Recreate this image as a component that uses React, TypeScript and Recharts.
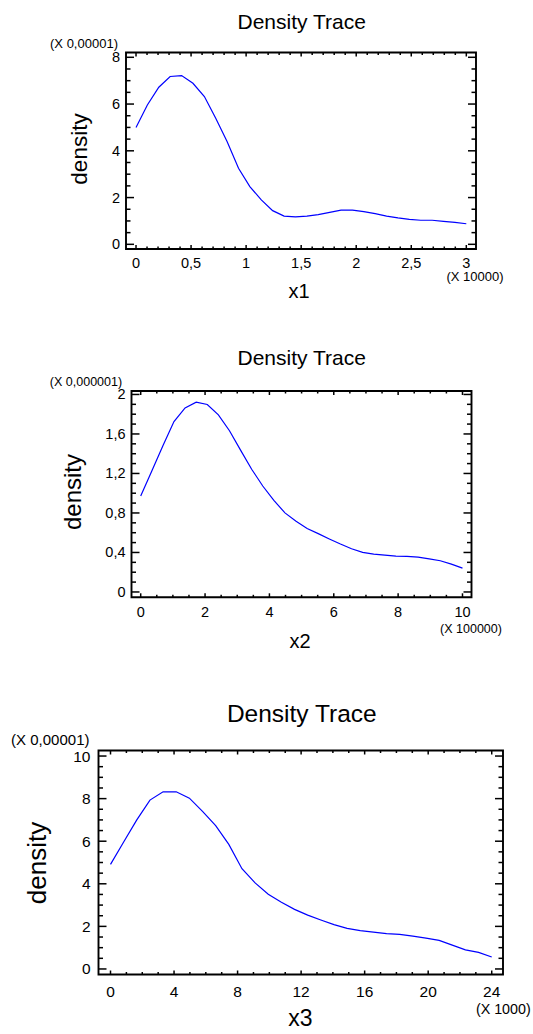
import React from 'react';
import { LineChart, Line, XAxis, YAxis, ReferenceArea } from 'recharts';

const FONT = "'Liberation Sans', Arial, Helvetica, sans-serif";

// ---------- Chart 1 (x1) ----------
const x1Values = [0, 0.103, 0.207, 0.31, 0.414, 0.517, 0.621, 0.724, 0.828, 0.931, 1.034, 1.138, 1.241, 1.345, 1.448, 1.552, 1.655, 1.759, 1.862, 1.966, 2.069, 2.172, 2.276, 2.379, 2.483, 2.586, 2.69, 2.793, 2.897, 3];
const density1Values = [5.0, 5.96, 6.72, 7.18, 7.22, 6.89, 6.32, 5.39, 4.39, 3.25, 2.47, 1.9, 1.44, 1.21, 1.17, 1.21, 1.27, 1.37, 1.46, 1.46, 1.4, 1.31, 1.21, 1.13, 1.07, 1.03, 1.03, 0.98, 0.94, 0.88];
const x1MajorTicks = [0, 0.5, 1, 1.5, 2, 2.5, 3];
const density1MajorTicks = [0, 2, 4, 6, 8];

// ---------- Chart 2 (x2) ----------
const x2Values = [0, 0.345, 0.69, 1.034, 1.379, 1.724, 2.069, 2.414, 2.759, 3.103, 3.448, 3.793, 4.138, 4.483, 4.828, 5.172, 5.517, 5.862, 6.207, 6.552, 6.897, 7.241, 7.586, 7.931, 8.276, 8.621, 8.966, 9.31, 9.655, 10];
const density2Values = [0.971, 1.226, 1.48, 1.725, 1.864, 1.922, 1.898, 1.793, 1.633, 1.436, 1.243, 1.073, 0.927, 0.801, 0.716, 0.642, 0.591, 0.537, 0.486, 0.438, 0.401, 0.384, 0.374, 0.363, 0.36, 0.353, 0.336, 0.316, 0.282, 0.241];
const x2MajorTicks = [0, 2, 4, 6, 8, 10];
const density2MajorTicks = [0, 0.4, 0.8, 1.2, 1.6, 2];

// ---------- Chart 3 (x3) ----------
const x3Values = [0, 0.828, 1.655, 2.483, 3.31, 4.138, 4.966, 5.793, 6.621, 7.448, 8.276, 9.103, 9.931, 10.759, 11.586, 12.414, 13.241, 14.069, 14.897, 15.724, 16.552, 17.379, 18.207, 19.034, 19.862, 20.69, 21.517, 22.345, 23.172, 24];
const density3Values = [4.91, 5.96, 7.0, 7.93, 8.32, 8.32, 8.02, 7.4, 6.73, 5.85, 4.71, 4.04, 3.51, 3.13, 2.8, 2.53, 2.3, 2.08, 1.91, 1.8, 1.73, 1.66, 1.62, 1.54, 1.45, 1.34, 1.12, 0.9, 0.78, 0.56];
const x3MajorTicks = [0, 4, 8, 12, 16, 20, 24];
const density3MajorTicks = [0, 2, 4, 6, 8, 10];

const titleText = 'Density Trace';
const yLabelText = 'density';

const AXIS_W = 40;
const AXIS_H = 30;

function fmt(v: number) {
  return String(v).replace('.', ',');
}

function buildTicks(majors: number[], step: number) {
  const min = majors[0];
  const max = majors[majors.length - 1];
  const n = Math.round((max - min) / step);
  const out: number[] = [];
  for (let i = 0; i <= n; i++) out.push(+(min + i * step).toFixed(6));
  return out;
}

function isMajor(v: number, majors: number[]) {
  return majors.some((m) => Math.abs(m - v) < 1e-6);
}

type Cfg = {
  width: number;
  height: number;
  top: number;
  left: number;
  right: number;
  bottom: number;
  xDomain: [number, number];
  yDomain: [number, number];
  xMajor: number[];
  yMajor: number[];
  xStep: number;
  yStep: number;
  xMajorLen: number;
  xMinorLen: number;
  yMajorLen: number;
  yMinorLen: number;
  tickFont: number;
  xLabelDy: number;
  yLabelDx: number;
};

function makeXTick(cfg: Cfg) {
  return (props: any) => {
    const { x, payload } = props;
    const v = payload.value as number;
    const major = isMajor(v, cfg.xMajor);
    const len = major ? cfg.xMajorLen : cfg.xMinorLen;
    const by = cfg.bottom;
    return (
      <g>
        <line x1={x} x2={x} y1={by} y2={by - len} stroke="#000" strokeWidth={1.5} />
        <line x1={x} x2={x} y1={cfg.top} y2={cfg.top + len} stroke="#000" strokeWidth={1.5} />
        {major && (
          <text x={x} y={by + cfg.xLabelDy} textAnchor="middle" dominantBaseline="central" fontSize={cfg.tickFont} fontFamily={FONT} fill="#000">
            {fmt(v)}
          </text>
        )}
      </g>
    );
  };
}

function makeYTick(cfg: Cfg) {
  const rightX = cfg.width - cfg.right;
  const lx = cfg.left;
  return (props: any) => {
    const { y, payload } = props;
    const v = payload.value as number;
    const major = isMajor(v, cfg.yMajor);
    const len = major ? cfg.yMajorLen : cfg.yMinorLen;
    return (
      <g>
        <line x1={lx} x2={lx + len} y1={y} y2={y} stroke="#000" strokeWidth={1.5} />
        <line x1={rightX} x2={rightX - len} y1={y} y2={y} stroke="#000" strokeWidth={1.5} />
        {major && (
          <text x={lx - cfg.yLabelDx} y={y} textAnchor="end" dominantBaseline="central" fontSize={cfg.tickFont} fontFamily={FONT} fill="#000">
            {fmt(v)}
          </text>
        )}
      </g>
    );
  };
}

function DensityChart({ cfg, xs, ys }: { cfg: Cfg; xs: number[]; ys: number[] }) {
  const data = xs.map((x, i) => ({ x, y: ys[i] }));
  const xTicks = buildTicks(cfg.xMajor, cfg.xStep);
  const yTicks = buildTicks(cfg.yMajor, cfg.yStep);
  return (
    <LineChart
      width={cfg.width}
      height={cfg.height}
      data={data}
      margin={{ top: cfg.top, right: cfg.right, bottom: cfg.height - cfg.bottom - AXIS_H, left: cfg.left - AXIS_W }}
    >
      <XAxis
        type="number"
        dataKey="x"
        domain={cfg.xDomain}
        allowDataOverflow
        ticks={xTicks}
        interval={0}
        height={AXIS_H}
        axisLine={false}
        tickLine={false}
        tick={makeXTick(cfg)}
      />
      <YAxis
        type="number"
        domain={cfg.yDomain}
        allowDataOverflow
        ticks={yTicks}
        interval={0}
        width={AXIS_W}
        axisLine={false}
        tickLine={false}
        tick={makeYTick(cfg)}
      />
      <ReferenceArea
        x1={cfg.xDomain[0]}
        x2={cfg.xDomain[1]}
        y1={cfg.yDomain[0]}
        y2={cfg.yDomain[1]}
        fill="none"
        fillOpacity={0}
        stroke="#000"
        strokeWidth={1.9}
        ifOverflow="visible"
      />
      <Line type="linear" dataKey="y" stroke="#0000ff" strokeWidth={1.2} dot={false} isAnimationActive={false} />
    </LineChart>
  );
}

const cfg1: Cfg = {
  width: 533, height: 330, top: 52.5, left: 126, right: 57, bottom: 249,
  xDomain: [-0.091, 3.088], yDomain: [-0.2, 8.205],
  xMajor: x1MajorTicks, yMajor: density1MajorTicks, xStep: 0.1, yStep: 0.5,
  xMajorLen: 4, xMinorLen: 2.5, yMajorLen: 8, yMinorLen: 4.5,
  tickFont: 14.5, xLabelDy: 13.5, yLabelDx: 6,
};

const cfg2: Cfg = {
  width: 533, height: 330, top: 51, left: 131.5, right: 61.5, bottom: 257.3,
  xDomain: [-0.286, 10.28], yDomain: [-0.054, 2.035],
  xMajor: x2MajorTicks, yMajor: density2MajorTicks, xStep: 0.5, yStep: 0.1,
  xMajorLen: 4, xMinorLen: 2.5, yMajorLen: 8, yMinorLen: 4.5,
  tickFont: 14.5, xLabelDy: 15, yLabelDx: 6,
};

const cfg3: Cfg = {
  width: 533, height: 344, top: 60.5, left: 98.5, right: 30, bottom: 284.5,
  xDomain: [-0.756, 24.71], yDomain: [-0.26, 10.26],
  xMajor: x3MajorTicks, yMajor: density3MajorTicks, xStep: 1, yStep: 0.5,
  xMajorLen: 4, xMinorLen: 2.5, yMajorLen: 8, yMinorLen: 4.5,
  tickFont: 15.5, xLabelDy: 17, yLabelDx: 8,
};

function Txt({ x, y, size, children, rotate }: { x: number; y: number; size: number; children: React.ReactNode; rotate?: boolean }) {
  return (
    <div
      style={{
        position: 'absolute',
        left: x,
        top: y,
        transform: `translate(-50%, -50%)${rotate ? ' rotate(-90deg)' : ''}`,
        fontFamily: FONT,
        fontSize: size,
        lineHeight: 1,
        whiteSpace: 'nowrap',
        color: '#000',
      }}
    >
      {children}
    </div>
  );
}

export default function App() {
  return (
    <div style={{ position: 'absolute', left: 0, top: 0, width: 533, height: 1034, background: '#fff', overflow: 'hidden' }}>
      <div style={{ position: 'absolute', left: 0, top: 0 }}>
        <DensityChart cfg={cfg1} xs={x1Values} ys={density1Values} />
      </div>
      <div style={{ position: 'absolute', left: 0, top: 340 }}>
        <DensityChart cfg={cfg2} xs={x2Values} ys={density2Values} />
      </div>
      <div style={{ position: 'absolute', left: 0, top: 690 }}>
        <DensityChart cfg={cfg3} xs={x3Values} ys={density3Values} />
      </div>

      {/* Chart 1 texts */}
      <Txt x={301.7} y={21} size={21}>{titleText}</Txt>
      <Txt x={84} y={43} size={13}>(X 0,00001)</Txt>
      <Txt x={475} y={276} size={13}>(X 10000)</Txt>
      <Txt x={80} y={149} size={22.5} rotate>{yLabelText}</Txt>
      <Txt x={299} y={291} size={20}>x1</Txt>

      {/* Chart 2 texts */}
      <Txt x={301.7} y={357.3} size={21}>{titleText}</Txt>
      <Txt x={86} y={381.5} size={12.5}>(X 0,000001)</Txt>
      <Txt x={471} y={629} size={12.5}>(X 100000)</Txt>
      <Txt x={73.3} y={491.7} size={24} rotate>{yLabelText}</Txt>
      <Txt x={300} y={641} size={20}>x2</Txt>

      {/* Chart 3 texts */}
      <Txt x={301.8} y={714} size={24.5}>{titleText}</Txt>
      <Txt x={50.3} y={739} size={15}>(X 0,00001)</Txt>
      <Txt x={503.3} y={1008.5} size={14.3}>(X 1000)</Txt>
      <Txt x={37.4} y={862.5} size={26} rotate>{yLabelText}</Txt>
      <Txt x={300.5} y={1018} size={23}>x3</Txt>
    </div>
  );
}
